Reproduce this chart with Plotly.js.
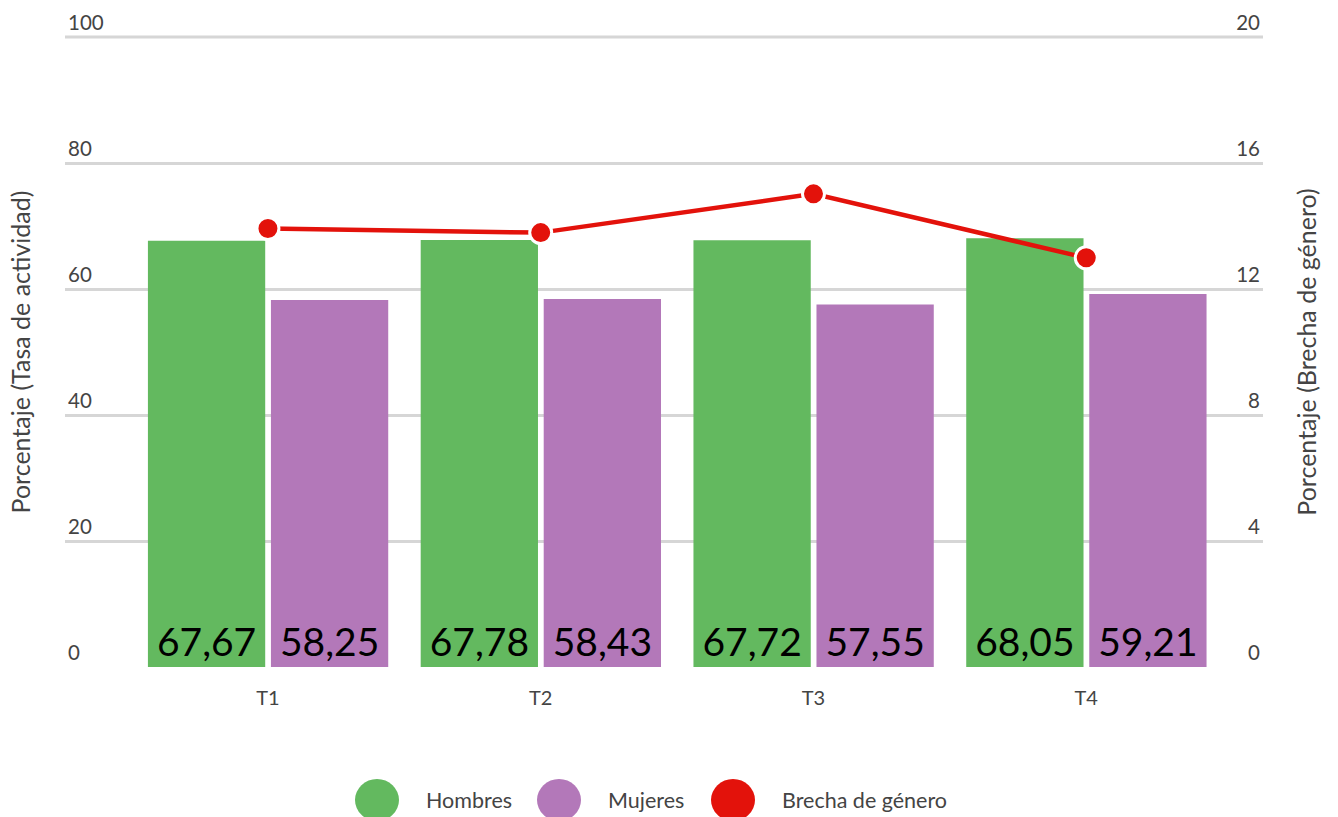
<!DOCTYPE html>
<html>
<head>
<meta charset="utf-8">
<script src="https://cdn.plot.ly/plotly-3.0.1.min.js"></script>
<style>html,body{margin:0;padding:0;background:#fff;}#chart{width:1338px;height:817px;}</style>
</head>
<body>
<div id="chart"></div>
<script>
const categories = ['T1', 'T2', 'T3', 'T4'];
const hombres = [67.67, 67.78, 67.72, 68.05];
const mujeres = [58.25, 58.43, 57.55, 59.21];
const brecha = [13.92, 13.79, 15.02, 12.99];
const legendLabels = ['Hombres', 'Mujeres', 'Brecha de género'];

const FONT = 'Lato, "Noto Sans", sans-serif';
const GREEN = '#63b95f', PURPLE = '#b378b9', RED = '#e3120b';

const traces = [
  {type: 'bar', name: legendLabels[0], x: [0,1,2,3], y: hombres, width: 0.43, offset: -0.44,
   marker: {color: GREEN}, texttemplate: '%{y:.2f}', textposition: 'inside', insidetextanchor: 'start',
   constraintext: 'none', textfont: {family: FONT, size: 39, color: '#000'}, showlegend: false, hoverinfo: 'skip'},
  {type: 'bar', name: legendLabels[1], x: [0,1,2,3], y: mujeres, width: 0.43, offset: 0.011,
   marker: {color: PURPLE}, texttemplate: '%{y:.2f}', textposition: 'inside', insidetextanchor: 'start',
   constraintext: 'none', textfont: {family: FONT, size: 39, color: '#000'}, showlegend: false, hoverinfo: 'skip'},
  {type: 'scatter', mode: 'lines+markers', name: legendLabels[2], x: [0,1,2,3], y: brecha, yaxis: 'y2',
   line: {color: RED, width: 4.5}, marker: {color: RED, size: 22, line: {color: '#fff', width: 3}},
   showlegend: false, hoverinfo: 'skip', cliponaxis: false}
];

const legendX = [377, 559, 733];
const shapes = [
  {type: 'line', xref: 'paper', yref: 'paper', x0: 0, x1: 1, y0: 1, y1: 1, line: {color: '#d6d6d6', width: 3}, layer: 'below'}
];
const annotations = [];
const colors = [GREEN, PURPLE, RED];
legendX.forEach((px, i) => {
  const xp = (px - 65) / 1198;
  const yp = (667 - 800) / 630;
  shapes.push({type: 'circle', xref: 'paper', yref: 'paper', xsizemode: 'pixel', ysizemode: 'pixel',
    xanchor: xp, yanchor: yp, x0: -22, x1: 22, y0: -21, y1: 21, fillcolor: colors[i], line: {width: 0}});
  annotations.push({xref: 'paper', yref: 'paper', x: xp, y: yp, xshift: 47, xanchor: 'left', yanchor: 'middle',
    showarrow: false, text: legendLabels[i], font: {family: FONT, size: 21.5, color: '#444'}});
});

const layout = {
  width: 1338, height: 817,
  margin: {l: 65, r: 75, t: 37, b: 150},
  paper_bgcolor: '#fff', plot_bgcolor: '#fff',
  separators: ',.',
  barmode: 'overlay',
  showlegend: false,
  hovermode: false,
  font: {family: FONT, color: '#444'},
  xaxis: {range: [-0.744, 3.648], tickmode: 'array', tickvals: [0,1,2,3], ticktext: categories,
    showgrid: false, zeroline: false, showline: false, ticks: '', ticklabelstandoff: 17,
    tickfont: {family: FONT, size: 20, color: '#444'}, fixedrange: true},
  yaxis: {range: [0, 100], dtick: 20, showgrid: true, gridcolor: '#d6d6d6', gridwidth: 3,
    zeroline: false, showline: false, ticks: '', ticklabelposition: 'inside top', ticklabeloverflow: 'allow',
    tickfont: {family: FONT, size: 20.5, color: '#444'},
    title: {text: 'Porcentaje (Tasa de actividad)', font: {family: FONT, size: 25, color: '#444'}, standoff: 30}},
  yaxis2: {range: [0, 20], dtick: 4, overlaying: 'y', side: 'right', showgrid: false, zeroline: false,
    showline: false, ticks: '', ticklabelposition: 'inside top', ticklabeloverflow: 'allow',
    tickfont: {family: FONT, size: 20.5, color: '#444'},
    title: {text: 'Porcentaje (Brecha de género)', font: {family: FONT, size: 25, color: '#444'}, standoff: 39}},
  shapes: shapes,
  annotations: annotations
};

Plotly.newPlot('chart', traces, layout, {displayModeBar: false, staticPlot: true});
</script>
</body>
</html>
